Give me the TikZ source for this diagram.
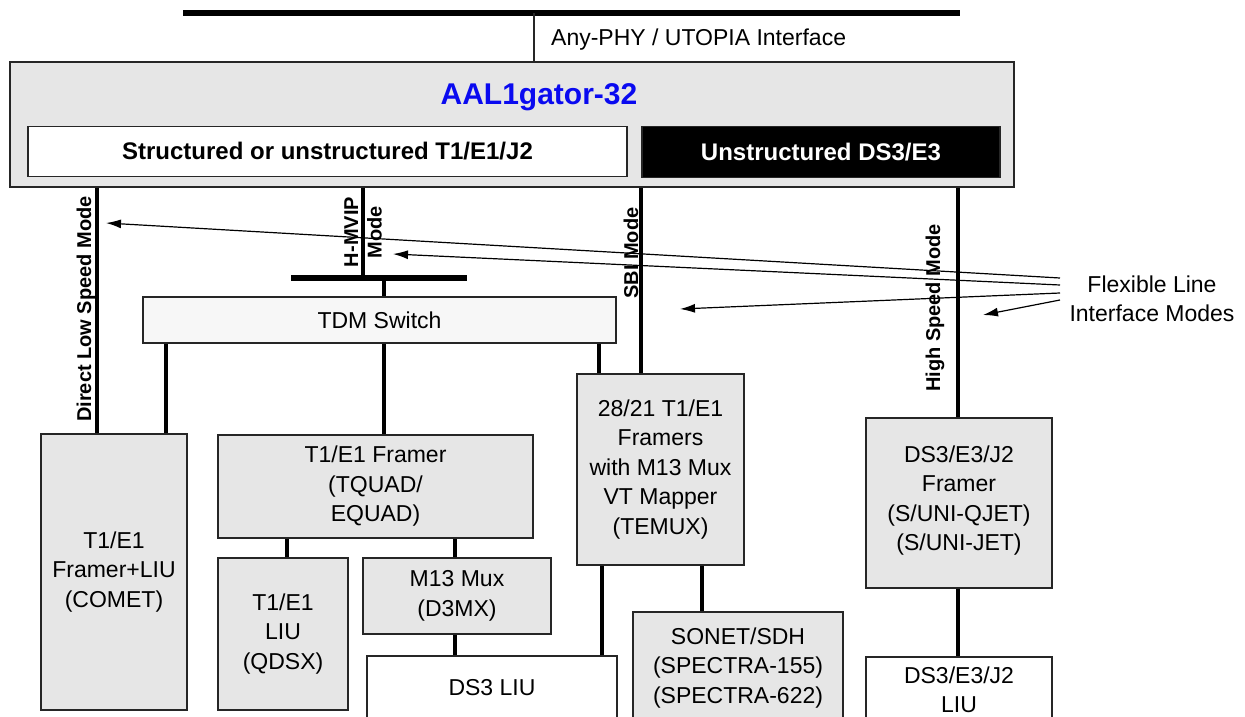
\documentclass[tikz,border=0pt]{standalone}
\usepackage{fontspec}
\setmainfont{Liberation Sans}
\usetikzlibrary{arrows.meta}
\definecolor{boxgray}{HTML}{E6E6E6}
\definecolor{switchgray}{HTML}{F7F7F7}
\definecolor{titleblue}{HTML}{0A0AF0}
\definecolor{edge}{HTML}{262626}
\begin{document}
\begin{tikzpicture}[x=1pt,y=-1pt,
  blk/.style={draw=edge, line width=1.6pt, fill=boxgray, inner sep=0pt, align=center, font=\fontsize{23}{29.5}\selectfont},
  wblk/.style={blk, fill=white},
  conn/.style={line width=4pt},
  bus/.style={line width=6pt},
  modelabel/.style={rotate=90, font=\bfseries\fontsize{20}{23.5}\selectfont, align=center, inner sep=0pt},
  plain/.style={font=\fontsize{23}{29.5}\selectfont, inner sep=0pt, align=center},
  pointer/.style={line width=1.2pt, -{Latex[length=15pt,width=9pt]}}
]
\clip (0,0) rectangle (1245,717);
\fill[white] (0,0) rectangle (1245,717);

% top interface
\coordinate (busL) at (183,13);
\coordinate (busR) at (960,13);
\coordinate (ifc) at (534,13);

% main chip
\node[blk, minimum width=1004pt, minimum height=125pt] (main) at (512,124.5) {};
\node[font=\bfseries\fontsize{30}{36}\selectfont, text=titleblue, inner sep=0pt] (title) at (539,97) {AAL1gator-32};
\node[wblk, minimum width=599pt, minimum height=50pt, font=\bfseries\fontsize{24}{28}\selectfont] (struct) at (327.5,151.5) {Structured or unstructured T1/E1/J2};
\node[blk, fill=black, text=white, minimum width=358pt, minimum height=51pt, font=\bfseries\fontsize{24}{28}\selectfont] (unstr) at (821,152) {Unstructured DS3/E3};

\draw[bus] (busL) -- (busR);
\draw[line width=1.5pt, edge] (ifc) -- (ifc |- main.north);
\node[plain, anchor=west] (anyphy) at (551,40) {Any-PHY / UTOPIA Interface};

% blocks
\node[blk, fill=switchgray, minimum width=473pt, minimum height=46pt] (tdm) at (379.5,320) {TDM Switch};
\node[blk, minimum width=146pt, minimum height=276pt] (comet) at (114,572) {T1/E1\\Framer+LIU\\(COMET)};
\node[blk, minimum width=315pt, minimum height=103pt] (framer) at (375.5,486.5) {T1/E1 Framer\\(TQUAD/\\EQUAD)};
\node[blk, minimum width=130pt, minimum height=152pt] (qdsx) at (283,634) {T1/E1\\LIU\\(QDSX)};
\node[blk, minimum width=188pt, minimum height=76pt] (m13) at (457,596) {M13 Mux\\(D3MX)};
\node[wblk, minimum width=250pt, minimum height=64pt] (ds3liu) at (492,688) {DS3 LIU};
\node[blk, minimum width=167pt, minimum height=191pt] (temux) at (660.5,469.5) {28/21 T1/E1\\Framers\\with M13 Mux\\VT Mapper\\(TEMUX)};
\node[blk, minimum width=210pt, minimum height=112pt] (sonet) at (738,668) {SONET/SDH\\(SPECTRA-155)\\(SPECTRA-622)};
\node[blk, minimum width=186pt, minimum height=170pt, text depth=10pt] (ds3fr) at (959,503) {DS3/E3/J2\\Framer\\(S/UNI-QJET)\\(S/UNI-JET)};
\node[wblk, minimum width=186pt, minimum height=66pt] (ds3liu2) at (959,690) {DS3/E3/J2\\LIU};

% x positions of connectors
\coordinate (dlx) at (97,0);
\coordinate (hmx) at (363,0);
\coordinate (sbix) at (641,0);
\coordinate (hsx) at (958,0);
\coordinate (sbL) at (291,278);
\coordinate (sbR) at (467,278);
\coordinate (sbx) at (384,0);
\coordinate (c1) at (166,0);
\coordinate (c3) at (599,0);
\coordinate (c4) at (287,0);
\coordinate (c5) at (455,0);
\coordinate (c6) at (602,0);
\coordinate (c7) at (702,0);

% mode lines
\draw[conn] (main.south -| dlx) -- (comet.north -| dlx);
\draw[conn] (main.south -| hmx) -- (hmx |- sbL);
\draw[conn] (main.south -| sbix) -- (temux.north -| sbix);
\draw[conn] (main.south -| hsx) -- (ds3fr.north -| hsx);
\draw[bus] (sbL) -- (sbR);
\draw[conn] (sbx |- sbL) -- (tdm.north -| sbx);

% block connections
\draw[conn] (tdm.south -| c1) -- (comet.north -| c1);
\draw[conn] (tdm.south -| sbx) -- (framer.north -| sbx);
\draw[conn] (tdm.south -| c3) -- (temux.north -| c3);
\draw[conn] (framer.south -| c4) -- (qdsx.north -| c4);
\draw[conn] (framer.south -| c5) -- (m13.north -| c5);
\draw[conn] (m13.south -| c5) -- (ds3liu.north -| c5);
\draw[conn] (temux.south -| c6) -- (ds3liu.north -| c6);
\draw[conn] (temux.south -| c7) -- (sonet.north -| c7);
\draw[conn] (ds3fr.south -| hsx) -- (ds3liu2.north -| hsx);

% mode labels
\node[modelabel] (dlm) at (86,309) {Direct Low Speed Mode};
\node[modelabel] (hmm) at (363,232) {H-MVIP\\Mode};
\node[modelabel] (sbim) at (631,253) {SBI Mode};
\node[modelabel] (hsm) at (935,308) {High Speed Mode};

% flexible modes callout
\node[plain] (flex) at (1152,299) {Flexible Line\\Interface Modes};
\coordinate (a1) at (1060,278);
\coordinate (a2) at (1060,285);
\coordinate (a3) at (1060,293);
\coordinate (a4) at (1060,300);
\coordinate (h1) at (106,223);
\coordinate (h2) at (393,254);
\coordinate (h3) at (680,309);
\coordinate (h4) at (983,315);
\draw[pointer] (a1) -- (h1);
\draw[pointer] (a2) -- (h2);
\draw[pointer] (a3) -- (h3);
\draw[pointer] (a4) -- (h4);
\end{tikzpicture}
\end{document}
